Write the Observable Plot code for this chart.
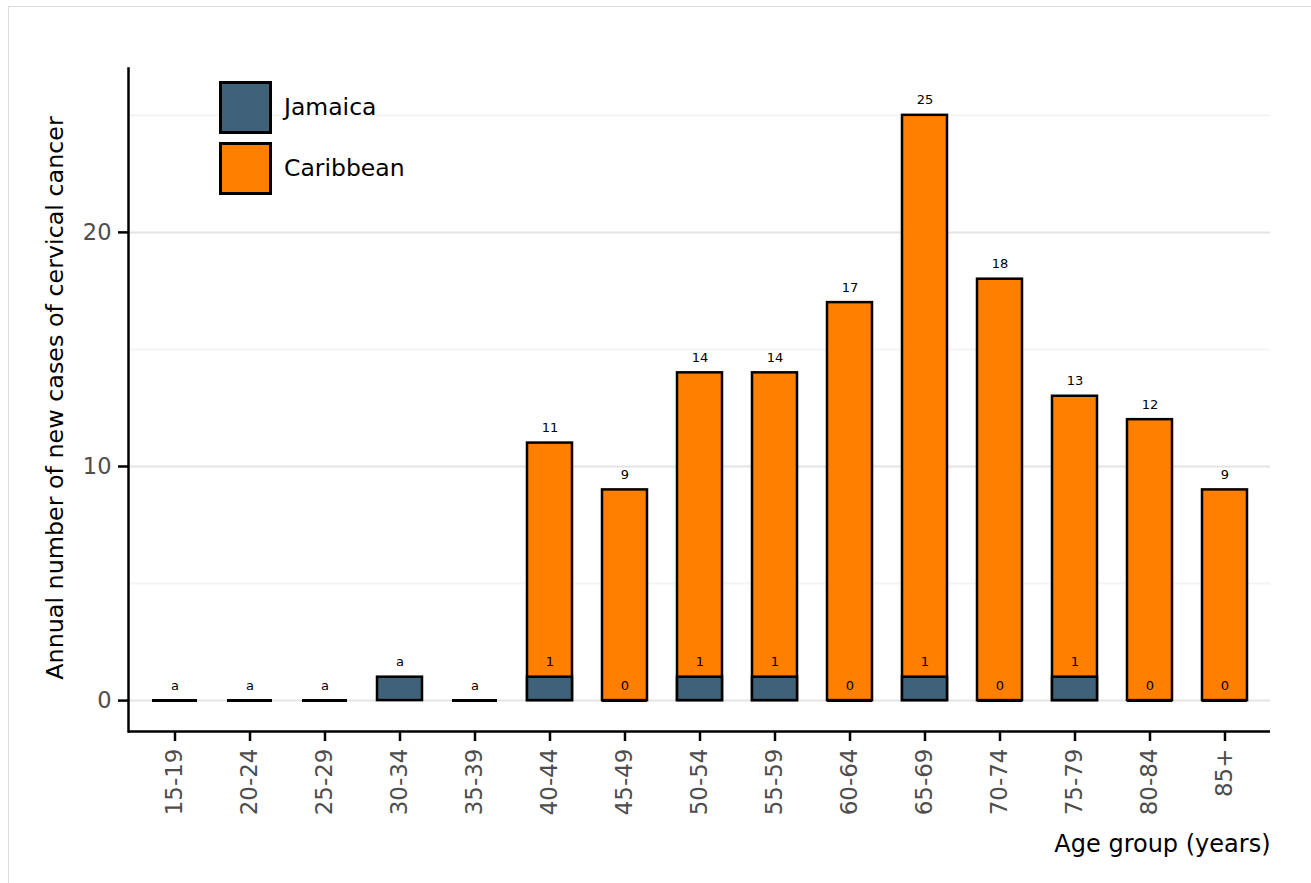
<!DOCTYPE html>
<html>
<head>
<meta charset="utf-8">
<script src="https://cdn.jsdelivr.net/npm/d3@7"></script>
<script src="https://cdn.jsdelivr.net/npm/@observablehq/plot@0.6"></script>
<style>
  html, body { margin: 0; padding: 0; background: #fff; }
  body { width: 1311px; height: 883px; position: relative; overflow: hidden; font-family: "DejaVu Sans", sans-serif; }
  #frame { position: absolute; left: 8px; top: 6px; width: 1330px; height: 900px; border-left: 1px solid #dcdcdc; border-top: 1px solid #dcdcdc; }
  #chart { position: absolute; left: 0; top: 0; }
  #legend { position: absolute; left: 219px; top: 81px; }
  .item { display: flex; align-items: center; height: 52px; margin-bottom: 9px; }
  .sw { width: 47px; height: 47px; border: 3px solid #000; box-sizing: content-box; }
  .lab { margin-left: 12px; font-size: 23.5px; color: #000; }
</style>
</head>
<body>
<div id="frame"></div>
<div id="chart"></div>
<div id="legend"></div>
<script>
const ageGroups = ["15-19","20-24","25-29","30-34","35-39","40-44","45-49","50-54","55-59","60-64","65-69","70-74","75-79","80-84","85+"];
const jamaica   = [0, 0, 0, 1, 0, 1, 0, 1, 1, 0, 1, 0, 1, 0, 0];
const jamaicaLabels = ["a","a","a","a","a","1","0","1","1","0","1","0","1","0","0"];
const caribbean = [null, null, null, null, null, 11, 9, 14, 14, 17, 25, 18, 13, 12, 9];
const seriesNames = ["Jamaica", "Caribbean"];
const seriesColors = ["#3f6179", "#ff7f00"];
const majorTicks = [0, 10, 20];
const minorTicks = [5, 15, 25];
const yLabel = "Annual number of new cases of cervical cancer";
const xLabel = "Age group (years)";

const jam = ageGroups.map((g, i) => ({group: g, value: jamaica[i], label: jamaicaLabels[i]}));
const car = ageGroups.map((g, i) => ({group: g, value: caribbean[i]})).filter(d => d.value != null);

const yMin = -1.32, yMax = 27.0;
const font = "DejaVu Sans";

const chart = Plot.plot({
  width: 1311,
  height: 883,
  marginLeft: 128,
  marginRight: 41,
  marginTop: 68,
  marginBottom: 152,
  style: {fontFamily: font, background: "transparent", overflow: "visible"},
  x: {domain: ageGroups, paddingInner: 0.4, paddingOuter: 0.29, label: null},
  y: {domain: [yMin, yMax], label: null},
  marks: [
    Plot.ruleY(minorTicks, {stroke: "#f4f4f4", strokeWidth: 2}),
    Plot.ruleY(majorTicks, {stroke: "#e4e4e4", strokeWidth: 2}),
    Plot.barY(car, {x: "group", y1: 0, y2: "value", fill: seriesColors[1], stroke: "#000", strokeWidth: 2.5}),
    Plot.barY(jam.filter(d => d.value > 0), {x: "group", y1: 0, y2: "value", fill: seriesColors[0], stroke: "#000", strokeWidth: 2.5}),
    Plot.tickY(jam.filter(d => d.value === 0), {x: "group", y: "value", stroke: "#000", strokeWidth: 3}),
    Plot.text(car, {x: "group", y: "value", text: d => String(d.value), dy: -15, fontSize: 13, fill: "#000", fontFamily: font}),
    Plot.text(jam, {x: "group", y: "value", text: "label", dy: -15, fontSize: 13, fill: "#000", fontFamily: font}),
    Plot.axisY({ticks: majorTicks, tickSize: 10, tickPadding: 7, fontSize: 22.5, stroke: "#000", strokeWidth: 2.5, fill: "#4d4d4d", label: null, tickFormat: d => String(d)}),
    Plot.axisX({tickSize: 10, tickPadding: 7, tickRotate: -90, fontSize: 23, stroke: "#000", strokeWidth: 2.5, fill: "#4d4d4d", label: null}),
    Plot.ruleY([yMin], {stroke: "#000", strokeWidth: 2.5}),
    Plot.frame({anchor: "left", stroke: "#000", strokeWidth: 2.5}),
    Plot.text([yLabel], {frameAnchor: "left", textAnchor: "middle", rotate: -90, dx: -73, dy: -2, fontSize: 23.8, fill: "#000", fontFamily: font}),
    Plot.text([xLabel], {frameAnchor: "bottom-right", textAnchor: "end", dy: 120, fontSize: 24, fill: "#000", fontFamily: font})
  ]
});
document.getElementById("chart").appendChild(chart);

const legend = document.getElementById("legend");
seriesNames.forEach((name, i) => {
  const item = document.createElement("div");
  item.className = "item";
  const sw = document.createElement("div");
  sw.className = "sw";
  sw.style.background = seriesColors[i];
  const lab = document.createElement("span");
  lab.className = "lab";
  lab.textContent = name;
  item.appendChild(sw);
  item.appendChild(lab);
  legend.appendChild(item);
});
</script>
</body>
</html>
